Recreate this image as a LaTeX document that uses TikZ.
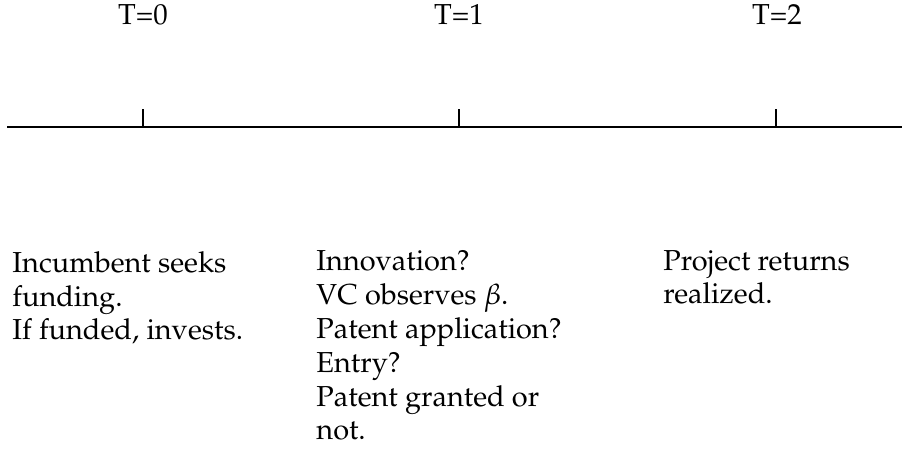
\documentclass[tikz,border=0pt]{standalone}
\usepackage[T1]{fontenc}
\usepackage{mathpazo}
\begin{document}
\begin{tikzpicture}[x=0.436pt,y=-0.436pt,
  txt/.style={inner sep=0pt, align=left, anchor=base west, font=\fontsize{12.6}{14.8}\selectfont},
  lbl/.style={inner sep=0pt, anchor=base, font=\fontsize{12.6}{14.8}\selectfont},
  tl/.style={line width=0.5pt}]
\useasboundingbox (0,0) rectangle (902,460);
% timeline
\coordinate (L) at (7,127);
\coordinate (R) at (902,127);
\draw[tl] (L) -- (R);
\coordinate (t0) at (143,127);
\coordinate (t1) at (459,127);
\coordinate (t2) at (776,127);
\coordinate (t0u) at (143,109);
\coordinate (t1u) at (459,109);
\coordinate (t2u) at (776,109);
\draw[tl] (t0) -- (t0u);
\draw[tl] (t1) -- (t1u);
\draw[tl] (t2) -- (t2u);
% labels
\node[lbl] (T0) at (143,25) {T=0};
\node[lbl] (T1) at (459,25) {T=1};
\node[lbl] (T2) at (777,25) {T=2};
% blocks (anchor is baseline of last line)
\node[txt] (A) at (12,340) {Incumbent seeks\\funding.\\If funded, invests.};
\node[txt] (B) at (316,440) {Innovation?\\VC observes $\beta$.\\Patent application?\\Entry?\\Patent granted or\\not.};
\node[txt] (C) at (663,304) {Project returns\\realized.};
\end{tikzpicture}
\end{document}
